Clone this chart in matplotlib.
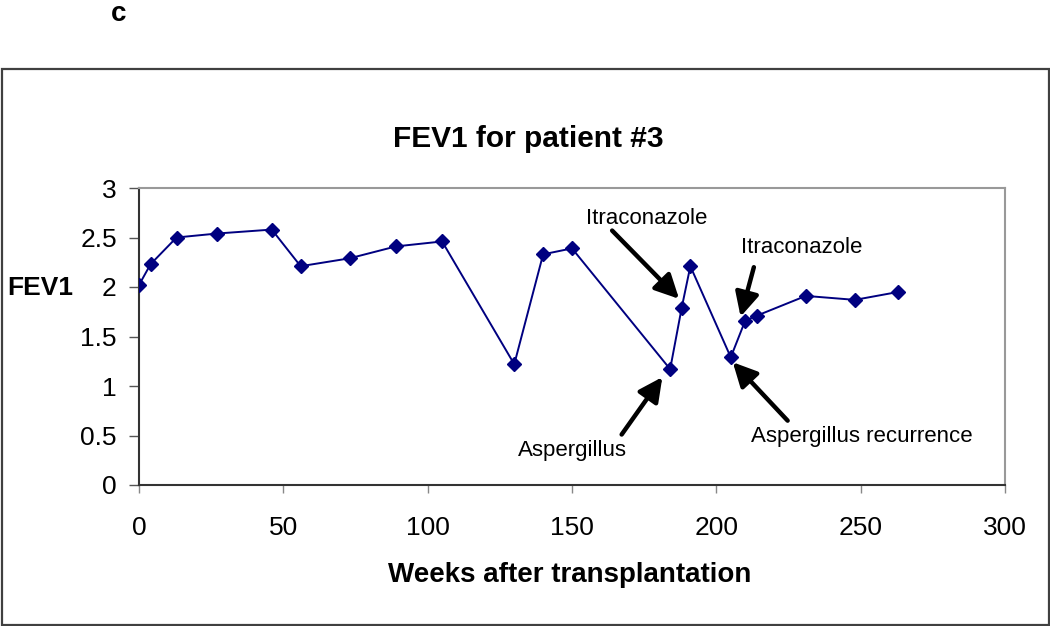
import matplotlib.pyplot as plt
import matplotlib.patches as mpatches

plt.rcParams['font.family'] = ['Liberation Sans', 'DejaVu Sans']

# FEV1 measurements (weeks after transplantation, litres)
weeks = [0, 4, 13, 27, 46, 56, 73, 89, 105, 130, 140, 150,
         184, 188, 191, 205, 210, 214, 231, 248, 263]
fev1 = [2.02, 2.23, 2.50, 2.54, 2.58, 2.21, 2.29, 2.41, 2.46, 1.22, 2.33, 2.39,
        1.17, 1.79, 2.21, 1.29, 1.66, 1.71, 1.91, 1.87, 1.95]

# annotations: text, text position, arrow tail, arrow head
notes = [
    ('Itraconazole', (175.9, 2.69), (163.9, 2.57), (187.1, 1.88)),
    ('Itraconazole', (229.5, 2.40), (213.0, 2.20), (208.4, 1.70)),
    ('Aspergillus', (150.1, 0.35), (167.2, 0.51), (181.3, 1.09)),
    ('Aspergillus recurrence', (250.5, 0.49), (224.7, 0.65), (205.7, 1.24)),
]

fig = plt.figure(figsize=(10.5, 6.26), dpi=100)
ax = fig.add_axes([139 / 1050, 1 - 485 / 626, (1005 - 139) / 1050, (485 - 188) / 626])

ax.plot(weeks, fev1, color='#000080', lw=1.4, marker='D', markersize=7.5, zorder=3)

for txt, tpos, tail, head in notes:
    ax.text(tpos[0], tpos[1], txt, ha='center', va='center', fontsize=16)
    ax.annotate('', xy=head, xytext=tail,
                arrowprops=dict(arrowstyle='-|>', lw=3.2, color='black', mutation_scale=36,
                                shrinkA=0, shrinkB=0))

ax.set_xlim(0, 300)
ax.set_ylim(0, 3)
ax.set_xticks(range(0, 301, 50))
ax.set_yticks([0, 0.5, 1, 1.5, 2, 2.5, 3])
ax.set_yticklabels(['0', '0.5', '1', '1.5', '2', '2.5', '3'])
ax.tick_params(axis='y', direction='out', length=7, width=1, color='#555555', labelsize=19, pad=9)
ax.tick_params(axis='x', direction='out', length=6, width=1, color='#888888', labelsize=19, pad=16)

for s in ['left', 'bottom']:
    ax.spines[s].set_color('#333333')
    ax.spines[s].set_linewidth(1.5)
for s in ['top', 'right']:
    ax.spines[s].set_color('#999999')
    ax.spines[s].set_linewidth(1.5)

fig.text(528 / 1050, 1 - 139 / 626, 'FEV1 for patient #3', ha='center', va='center',
         fontsize=21.5, fontweight='bold')
fig.text(570 / 1050, 1 - 575 / 626, 'Weeks after transplantation', ha='center', va='center',
         fontsize=20, fontweight='bold')
fig.text(40 / 1050, 1 - 288 / 626, 'FEV1', ha='center', va='center',
         fontsize=19, fontweight='bold')
fig.text(119 / 1050, 1 - 1 / 626, 'c', ha='center', va='top',
         fontsize=20, fontweight='bold')

frame = mpatches.Rectangle((1.5 / 1050, 1.5 / 626), 1047 / 1050, (625 - 69) / 626,
                           transform=fig.transFigure, fill=False, edgecolor='#404040', lw=1.6)
fig.patches.append(frame)

fig.savefig('out.png', dpi=100)
